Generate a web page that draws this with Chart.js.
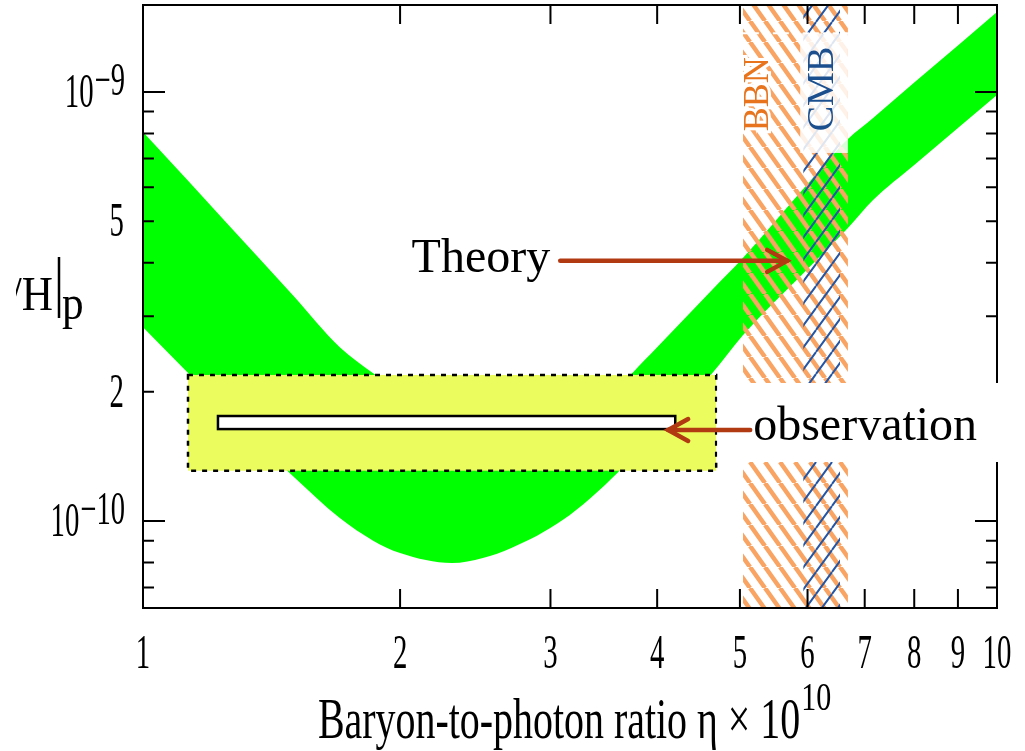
<!DOCTYPE html>
<html>
<head>
<meta charset="utf-8">
<style>
  html, body { margin: 0; padding: 0; background: #fff; }
  #wrap { width: 1025px; height: 751px; }
</style>
<script src="https://cdn.jsdelivr.net/npm/chart.js@4.4.1/dist/chart.umd.min.js"></script>
</head>
<body>
<div id="wrap"><canvas id="chart"></canvas></div>
<script>
// Baryon-to-photon ratio eta (x 1e10), sample points of the theory band
const eta = [1.0, 1.13, 1.25, 1.5, 1.7, 1.86, 2.0, 2.3, 2.5, 2.7, 3.1, 3.6, 3.74, 4.0, 4.64, 5.04, 6.0, 6.69, 7.16, 8, 9, 10];
// Li/H in units of 1e-10: upper and lower edge of the theory band
const theoryUpper = [8.07, 6.20, 4.98, 3.35, 2.54, 2.21, 2.00, 1.67, 1.57, 1.545, 1.63, 2.02, 2.21, 2.54, 3.46, 4.10, 6.10, 7.77, 8.70, 10.52, 12.84, 15.37];
const theoryLower = [2.83, 2.21, 1.80, 1.27, 1.016, 0.90, 0.842, 0.798, 0.820, 0.865, 1.005, 1.30, 1.417, 1.63, 2.21, 2.71, 3.87, 4.82, 5.60, 6.76, 8.24, 9.84];

// observation: systematic box and statistical bar (eta range, Li/H range)
const obsBoxEta = [1.129, 4.69];
const obsBoxLiH = [1.31, 2.19];
const obsBarEta = [1.224, 4.20];
const obsBarLiH = [1.638, 1.757];

// eta ranges of the BBN and CMB bands
const bbnEta = [5.04, 6.69];
const cmbEta = [5.93, 6.55];

// axis ranges
const etaRange = [1, 10];
const lihRange = [0.627, 15.95];

// ticks
const xTickValues = [2, 3, 4, 5, 6, 7, 8, 9];
const xLabelValues = [1, 2, 3, 4, 5, 6, 7, 8, 9, 10];
const xLabelTexts = ['1', '2', '3', '4', '5', '6', '7', '8', '9', '10'];
const yMajorTicks = [1, 10];
const yMinorTicks = [0.7, 0.8, 0.9, 2, 3, 4, 5, 6, 7, 8, 9];
const yLabelValues = [10, 5, 2, 1];
const yLabelBases = ['10', '5', '2', '10'];
const yLabelExps = ['\u22129', '', '', '\u221210'];

// annotation anchors (eta, Li/H)
const theoryArrow = { from: 3.08, to: 5.68, lih: 4.04 };
const obsArrow = { from: 5.14, to: 4.12, lih: 1.63 };
const labelBoxLiH = [7.21, 13.7];
const bandLabelLiH = 8.1;

const SERIF = "'Liberation Serif', 'Times New Roman', serif";
const ARROW = '#b23a12';

function hatch(color, w, h, lw, dir) {
  const c = document.createElement('canvas');
  c.width = w; c.height = h;
  const g = c.getContext('2d');
  g.strokeStyle = color;
  g.lineWidth = lw;
  g.beginPath();
  for (let k = -1; k <= 1; k++) {
    if (dir === 'back') { g.moveTo(k * w, 0); g.lineTo(k * w + w, h); }
    else { g.moveTo(k * w, h); g.lineTo(k * w + w, 0); }
  }
  g.stroke();
  return g.createPattern(c, 'repeat');
}

const orangeHatch = hatch('#f9a462', 15, 21, 4.5, 'back');
const blueHatch = hatch('#2456a4', 16, 22, 2, 'fwd');

const pts = (xs, ys) => xs.map((x, i) => ({ x: x, y: ys[i] }));
const topEdge = (range) => range.map((x) => ({ x: x, y: lihRange[1] }));
const clear = 'rgba(0,0,0,0)';

function squish(ctx, text, x, y, sx, align) {
  ctx.save();
  ctx.translate(x, y);
  ctx.scale(sx, 1);
  ctx.textAlign = align || 'left';
  ctx.fillText(text, 0, 0);
  ctx.restore();
}

function arrowHead(ctx, x, y, dir) {
  ctx.beginPath();
  ctx.moveTo(x - dir * 20, y - 11);
  ctx.lineTo(x, y);
  ctx.lineTo(x - dir * 20, y + 11);
  ctx.stroke();
}

// frame, ticks, labels and annotations drawn over the datasets
const decorations = {
  id: 'decorations',
  afterDatasetsDraw(chart) {
    const ctx = chart.ctx;
    const xs = chart.scales.x, ys = chart.scales.y;
    const a = chart.chartArea;
    const X = (v) => xs.getPixelForValue(v);
    const Y = (v) => ys.getPixelForValue(v);

    ctx.save();
    // observation box
    ctx.fillStyle = '#ebfd5e';
    ctx.fillRect(X(obsBoxEta[0]), Y(obsBoxLiH[1]), X(obsBoxEta[1]) - X(obsBoxEta[0]), Y(obsBoxLiH[0]) - Y(obsBoxLiH[1]));
    ctx.setLineDash([5, 6]);
    ctx.lineWidth = 2.5;
    ctx.strokeStyle = '#000';
    ctx.strokeRect(X(obsBoxEta[0]), Y(obsBoxLiH[1]), X(obsBoxEta[1]) - X(obsBoxEta[0]), Y(obsBoxLiH[0]) - Y(obsBoxLiH[1]));
    ctx.setLineDash([]);
    ctx.fillStyle = '#fff';
    ctx.fillRect(X(obsBarEta[0]), Y(obsBarLiH[1]), X(obsBarEta[1]) - X(obsBarEta[0]), Y(obsBarLiH[0]) - Y(obsBarLiH[1]));
    ctx.strokeRect(X(obsBarEta[0]), Y(obsBarLiH[1]), X(obsBarEta[1]) - X(obsBarEta[0]), Y(obsBarLiH[0]) - Y(obsBarLiH[1]));

    // frame
    ctx.lineWidth = 2;
    ctx.strokeRect(a.left, a.top, a.right - a.left, a.bottom - a.top);
    ctx.beginPath();
    xTickValues.forEach((v) => {
      const px = X(v);
      ctx.moveTo(px, a.bottom); ctx.lineTo(px, a.bottom - 19);
      ctx.moveTo(px, a.top); ctx.lineTo(px, a.top + 19);
    });
    yMajorTicks.forEach((v) => {
      const py = Y(v);
      ctx.moveTo(a.left, py); ctx.lineTo(a.left + 22, py);
      ctx.moveTo(a.right, py); ctx.lineTo(a.right - 22, py);
    });
    yMinorTicks.forEach((v) => {
      const py = Y(v);
      ctx.moveTo(a.left, py); ctx.lineTo(a.left + 11, py);
      ctx.moveTo(a.right, py); ctx.lineTo(a.right - 11, py);
    });
    ctx.stroke();

    // white box with the band labels
    const bl = X(bbnEta[0]), br = X(bbnEta[1]), cl = X(cmbEta[0]);
    ctx.fillStyle = 'rgba(255,255,255,0.85)';
    ctx.fillRect(cl - 3, Y(labelBoxLiH[1]), br - cl + 3, Y(labelBoxLiH[0]) - Y(labelBoxLiH[1]));
    ctx.strokeStyle = '#fff';
    ctx.setLineDash([6, 4]);
    ctx.beginPath();
    ctx.moveTo(bl, Y(labelBoxLiH[1])); ctx.lineTo(br, Y(labelBoxLiH[1]));
    ctx.stroke();
    ctx.setLineDash([]);

    ctx.save();
    ctx.translate(bl + 25, Y(bandLabelLiH));
    ctx.rotate(-Math.PI / 2);
    ctx.font = '36px ' + SERIF;
    ctx.lineWidth = 6;
    ctx.strokeStyle = '#fff';
    ctx.strokeText('BBN', 0, 0);
    ctx.fillStyle = '#e8741e';
    ctx.fillText('BBN', 0, 0);
    ctx.restore();
    ctx.save();
    ctx.translate(cl + 30, Y(bandLabelLiH));
    ctx.rotate(-Math.PI / 2);
    ctx.font = '38px ' + SERIF;
    ctx.fillStyle = '#1c4f8e';
    ctx.fillText('CMB', 0, 0);
    ctx.restore();

    // theory label and arrow
    const ty = Y(theoryArrow.lih);
    ctx.fillStyle = '#000';
    ctx.font = '48px ' + SERIF;
    ctx.textAlign = 'right';
    ctx.fillText('Theory', X(theoryArrow.from) - 10, ty + 11);
    ctx.strokeStyle = ARROW;
    ctx.lineWidth = 4.5;
    ctx.lineCap = 'round';
    ctx.beginPath();
    ctx.moveTo(X(theoryArrow.from), ty); ctx.lineTo(X(theoryArrow.to), ty);
    ctx.stroke();
    arrowHead(ctx, X(theoryArrow.to), ty, 1);

    // observation label, its white box and arrow
    const oy = Y(obsArrow.lih);
    const ox = X(obsArrow.from);
    ctx.fillStyle = '#fff';
    ctx.fillRect(X(obsBoxEta[1]) + 1, oy - 47, chart.width - X(obsBoxEta[1]), 79);
    ctx.fillStyle = '#000';
    ctx.textAlign = 'left';
    ctx.fillText('observation', ox + 3, oy + 10);
    ctx.beginPath();
    ctx.moveTo(ox, oy); ctx.lineTo(X(obsArrow.to), oy);
    ctx.stroke();
    arrowHead(ctx, X(obsArrow.to), oy, -1);

    // x tick labels
    ctx.fillStyle = '#000';
    ctx.font = '48px ' + SERIF;
    xLabelValues.forEach((v, i) => squish(ctx, xLabelTexts[i], X(v), a.bottom + 60, 0.6, 'center'));

    // y tick labels
    yLabelValues.forEach((v, i) => {
      const py = Y(v);
      const right = a.left - 18;
      ctx.font = '46px ' + SERIF;
      const ew = yLabelExps[i] ? ctx.measureText(yLabelExps[i]).width * 0.62 : 0;
      if (ew) squish(ctx, yLabelExps[i], right - ew, py + 3, 0.62, 'left');
      ctx.font = '48px ' + SERIF;
      squish(ctx, yLabelBases[i], right - ew - 1, py + 15, 0.6, 'right');
    });

    // x axis title
    ctx.font = '57px ' + SERIF;
    const base = 'Baryon-to-photon ratio \u03b7 \u00d7 10';
    const bw = ctx.measureText(base).width * 0.7;
    const tx = 318;
    squish(ctx, base, tx, a.bottom + 130, 0.7, 'left');
    ctx.font = '40px ' + SERIF;
    squish(ctx, '10', tx + bw + 1, a.bottom + 102, 0.75, 'left');

    // y axis title (cut at the left edge as in the source figure)
    ctx.save();
    ctx.beginPath();
    ctx.rect(16, 0, 200, chart.height);
    ctx.clip();
    ctx.font = '48px ' + SERIF;
    squish(ctx, '\u2077Li/H', 53, 310, 0.9, 'right');
    ctx.restore();
    ctx.strokeStyle = '#000';
    ctx.lineWidth = 2.5;
    ctx.lineCap = 'butt';
    ctx.beginPath();
    ctx.moveTo(59, 257); ctx.lineTo(59, 318);
    ctx.stroke();
    ctx.font = '48px ' + SERIF;
    squish(ctx, 'p', 62, 319, 0.9, 'left');

    ctx.restore();
  }
};

new Chart(document.getElementById('chart'), {
  type: 'line',
  data: {
    datasets: [
      { label: 'CMB', data: topEdge(cmbEta), fill: 'start', backgroundColor: blueHatch,
        borderColor: clear, borderWidth: 0, pointRadius: 0, order: 1 },
      { label: 'BBN', data: topEdge(bbnEta), fill: 'start', backgroundColor: orangeHatch,
        borderColor: clear, borderWidth: 0, pointRadius: 0, order: 2 },
      { label: 'Theory upper', data: pts(eta, theoryUpper), fill: false,
        borderColor: clear, borderWidth: 0, pointRadius: 0, cubicInterpolationMode: 'monotone', order: 3 },
      { label: 'Theory lower', data: pts(eta, theoryLower), fill: '-1', backgroundColor: '#00ff00',
        borderColor: clear, borderWidth: 0, pointRadius: 0, cubicInterpolationMode: 'monotone', order: 3 }
    ]
  },
  options: {
    responsive: true,
    maintainAspectRatio: false,
    animation: false,
    layout: { padding: { left: 143, right: 28, top: 5, bottom: 143 } },
    plugins: { legend: { display: false }, tooltip: { enabled: false } },
    scales: {
      x: { type: 'logarithmic', bounds: 'data', min: etaRange[0], max: etaRange[1], display: false },
      y: { type: 'logarithmic', bounds: 'data', min: lihRange[0], max: lihRange[1], display: false }
    }
  },
  plugins: [decorations]
});
</script>
</body>
</html>
